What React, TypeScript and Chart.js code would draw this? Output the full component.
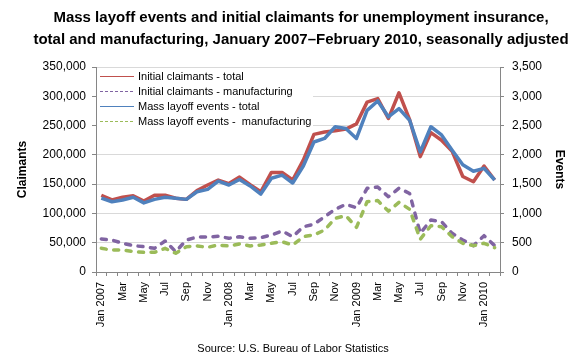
import React, { useEffect, useRef } from 'react';
import { Chart, registerables } from 'chart.js';

Chart.register(...registerables);

const FONT = "'Liberation Sans', Arial, Helvetica, sans-serif";

const TITLE_LINES = [
  'Mass layoff events and initial claimants for unemployment insurance,',
  'total and manufacturing, January 2007\u2013February 2010, seasonally adjusted',
];
const SOURCE = 'Source: U.S. Bureau of Labor Statistics';

const MONTHS = [
  'Jan 2007', 'Feb', 'Mar', 'Apr', 'May', 'Jun', 'Jul', 'Aug', 'Sep', 'Oct', 'Nov', 'Dec',
  'Jan 2008', 'Feb', 'Mar', 'Apr', 'May', 'Jun', 'Jul', 'Aug', 'Sep', 'Oct', 'Nov', 'Dec',
  'Jan 2009', 'Feb', 'Mar', 'Apr', 'May', 'Jun', 'Jul', 'Aug', 'Sep', 'Oct', 'Nov', 'Dec',
  'Jan 2010', 'Feb',
];

// Initial claimants (left axis)
const CLAIMANTS_TOTAL = [
  131000, 123000, 127500, 130000, 121000, 131000, 131000, 126000, 124000, 139000, 148500, 157000,
  151000, 162000, 149000, 137000, 170000, 170000, 157000, 191000, 235000, 239000, 241000, 244000,
  253000, 290000, 296000, 262000, 306000, 260000, 197000, 238000, 225000, 206000, 163000, 154000,
  181000, 157000,
];
const CLAIMANTS_MFG = [
  56300, 54600, 49000, 45000, 43200, 40400, 53000, 34700, 54600, 59700, 59700, 61000,
  57500, 60300, 57500, 58600, 63200, 70000, 60300, 77300, 81400, 94400, 107000, 115500,
  109800, 142900, 145000, 128500, 143000, 134000, 66000, 88800, 85900, 66000, 54600, 44900,
  62000, 45000,
];

// Mass layoff events (right axis)
const EVENTS_TOTAL = [
  1260, 1200, 1230, 1275, 1180, 1240, 1275, 1260, 1240, 1370, 1410, 1550,
  1485, 1580, 1470, 1330, 1600, 1655, 1520, 1810, 2220, 2280, 2480, 2450,
  2280, 2760, 2920, 2650, 2790, 2590, 2050, 2480, 2340, 2080, 1830, 1720,
  1770, 1570,
];
const EVENTS_MFG = [
  404, 375, 375, 347, 336, 336, 404, 320, 432, 444, 422, 460,
  444, 478, 444, 460, 490, 517, 460, 603, 632, 717, 917, 961,
  763, 1200, 1220, 1040, 1190, 1070, 560, 790, 773, 603, 490, 450,
  490, 415,
];

const SERIES_LABELS = [
  'Initial claimants - total',
  'Initial claimants - manufacturing',
  'Mass layoff events - total',
  'Mass layoff events -  manufacturing',
];
const COLORS = ['#C0504D', '#8064A2', '#4F81BD', '#9BBB59'];

const AXIS_COLOR = '#868686';
const GRID_COLOR = '#d9d9d9';

const textPlugin = {
  id: 'textPlugin',
  afterDraw(chart: any) {
    const ctx = chart.ctx;
    ctx.save();
    ctx.fillStyle = '#000';
    ctx.textAlign = 'center';
    ctx.textBaseline = 'middle';
    ctx.font = `bold 15px ${FONT}`;
    TITLE_LINES.forEach((t, i) => ctx.fillText(t, 301, 18 + i * 21.5));
    ctx.font = `11px ${FONT}`;
    ctx.fillText(SOURCE, 293, 349);
    ctx.restore();
  },
};

const legendPlugin = {
  id: 'insideLegend',
  afterDatasetsDraw(chart: any) {
    const ctx = chart.ctx;
    const area = chart.chartArea;
    ctx.save();
    ctx.fillStyle = '#ffffff';
    ctx.fillRect(area.left + 1, area.top + 1, 216, 61);
    ctx.font = `11px ${FONT}`;
    ctx.textAlign = 'left';
    ctx.textBaseline = 'middle';
    chart.data.datasets.forEach((ds: any, i: number) => {
      const y = area.top + 9 + i * 15.1;
      ctx.strokeStyle = ds.borderColor;
      ctx.lineWidth = 1;
      ctx.setLineDash(ds.borderDash && ds.borderDash.length ? [3, 2] : []);
      ctx.beginPath();
      ctx.moveTo(area.left + 4, Math.round(y) + 0.5);
      ctx.lineTo(area.left + 38, Math.round(y) + 0.5);
      ctx.stroke();
      ctx.setLineDash([]);
      ctx.fillStyle = '#000';
      ctx.fillText(ds.label, area.left + 42, y + 0.5);
    });
    ctx.restore();
  },
};

export default function App() {
  const ref = useRef<HTMLCanvasElement | null>(null);

  useEffect(() => {
    if (!ref.current) return;
    const dash = [5, 7.5];
    const chart = new Chart(ref.current, {
      type: 'line',
      data: {
        labels: MONTHS,
        datasets: [
          {
            label: SERIES_LABELS[0],
            data: CLAIMANTS_TOTAL,
            yAxisID: 'y',
            borderColor: COLORS[0],
            backgroundColor: COLORS[0],
            borderWidth: 3.5,
            order: 3,
          },
          {
            label: SERIES_LABELS[1],
            data: CLAIMANTS_MFG,
            yAxisID: 'y',
            borderColor: COLORS[1],
            backgroundColor: COLORS[1],
            borderWidth: 3.5,
            borderDash: dash,
            borderCapStyle: 'round',
            order: 4,
          },
          {
            label: SERIES_LABELS[2],
            data: EVENTS_TOTAL,
            yAxisID: 'y1',
            borderColor: COLORS[2],
            backgroundColor: COLORS[2],
            borderWidth: 3.5,
            order: 1,
          },
          {
            label: SERIES_LABELS[3],
            data: EVENTS_MFG,
            yAxisID: 'y1',
            borderColor: COLORS[3],
            backgroundColor: COLORS[3],
            borderWidth: 3.5,
            borderDash: dash,
            borderCapStyle: 'round',
            order: 2,
          },
        ] as any,
      },
      options: {
        responsive: false,
        animation: false,
        layout: { padding: { top: 67, left: 0, right: 0, bottom: 0 } },
        elements: {
          point: { radius: 0, hoverRadius: 0 },
          line: { tension: 0, borderJoinStyle: 'round' },
        },
        plugins: {
          legend: { display: false },
          title: { display: false },
          tooltip: { enabled: false },
        },
        scales: {
          x: {
            type: 'category',
            offset: true,
            grid: {
              display: true,
              drawOnChartArea: false,
              drawTicks: true,
              tickLength: 4,
              offset: true,
              tickColor: AXIS_COLOR,
            },
            border: { color: AXIS_COLOR, width: 1 },
            ticks: {
              autoSkip: false,
              maxRotation: 90,
              minRotation: 90,
              padding: 6,
              color: '#000',
              font: { family: FONT, size: 11 },
              callback: (_v: any, i: number) => (i % 2 === 0 ? MONTHS[i] : ''),
            },
            afterFit: (s: any) => {
              s.height = 88;
            },
          },
          y: {
            position: 'left',
            min: 0,
            max: 350000,
            grid: {
              color: GRID_COLOR,
              tickColor: AXIS_COLOR,
              tickLength: 4,
              drawTicks: true,
            },
            border: { color: AXIS_COLOR, width: 1 },
            ticks: {
              stepSize: 50000,
              padding: 6,
              color: '#000',
              font: { family: FONT, size: 12 },
              callback: (v: any) => Number(v).toLocaleString('en-US'),
            },
            title: {
              display: true,
              text: 'Claimants',
              color: '#000',
              font: { family: FONT, size: 12, weight: 'bold' },
              padding: { top: 15, bottom: 0 },
            },
            afterFit: (s: any) => {
              s.width = 96;
            },
          },
          y1: {
            position: 'right',
            min: 0,
            max: 3500,
            grid: {
              drawOnChartArea: false,
              tickColor: AXIS_COLOR,
              tickLength: 4,
              drawTicks: true,
            },
            border: { color: AXIS_COLOR, width: 1 },
            ticks: {
              stepSize: 500,
              padding: 8,
              color: '#000',
              font: { family: FONT, size: 12 },
              callback: (v: any) => Number(v).toLocaleString('en-US'),
            },
            title: {
              display: true,
              text: 'Events',
              color: '#000',
              font: { family: FONT, size: 12, weight: 'bold' },
              padding: { top: 13, bottom: 0 },
            },
            afterFit: (s: any) => {
              s.width = 80;
            },
          },
        },
      } as any,
      plugins: [legendPlugin, textPlugin],
    });
    return () => chart.destroy();
  }, []);

  return (
    <div style={{ position: 'fixed', left: 0, top: 0, width: 580, height: 360, background: '#fff' }}>
      <canvas ref={ref} width={580} height={360} style={{ width: 580, height: 360, display: 'block' }} />
    </div>
  );
}
